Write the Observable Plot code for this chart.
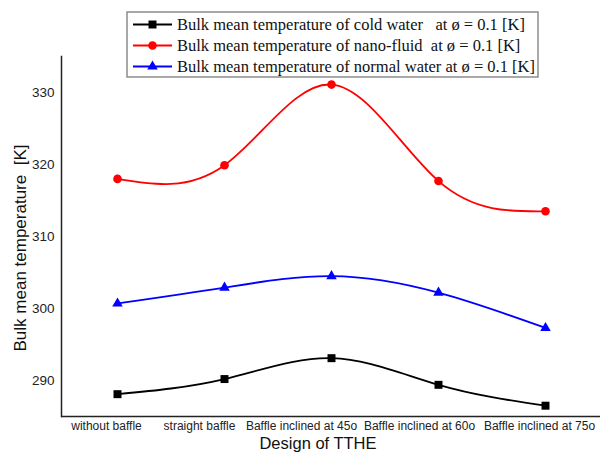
<!DOCTYPE html>
<html>
<head>
<meta charset="utf-8">
<script src="https://cdn.jsdelivr.net/npm/d3@7"></script>
<script src="https://cdn.jsdelivr.net/npm/@observablehq/plot@0.6"></script>
<style>
  html, body { margin: 0; padding: 0; background: white; }
  #chart { position: relative; width: 608px; height: 453px; overflow: hidden; }
</style>
</head>
<body>
<div id="chart"></div>
<script>
// ---- data ----
const categories = ["without baffle", "straight baffle", "Baffle inclined at 45o", "Baffle inclined at 60o", "Baffle inclined at 75o"];
const coldWater   = [288.1, 290.2, 293.1, 289.4, 286.5];
const nanoFluid   = [318.0, 319.9, 331.1, 317.7, 313.5];
const normalWater = [300.7, 302.9, 304.5, 302.2, 297.3];
const seriesNames = [
  "Bulk mean temperature of cold water   at ø = 0.1 [K]",
  "Bulk mean temperature of nano-fluid  at ø = 0.1 [K]",
  "Bulk mean temperature of normal water at ø = 0.1 [K]"
];
const yTicks = [290, 300, 310, 320, 330];
const xTitle = "Design of TTHE";
const yTitle = "Bulk mean temperature  [K]";

// ---- styles ----
const seriesValues = [coldWater, nanoFluid, normalWater];
const seriesColors = ["#000000", "#ff0000", "#0000ff"];
const seriesSymbols = ["square", "circle", "triangle"];
const seriesR = [4.5, 4.3, 3.9];
const tickLabelNudge = [-11, -25, -30, -19, -6]; // labels are crowded in the original

const rows = seriesNames.flatMap((s, i) =>
  categories.map((c, j) => ({ design: c, value: seriesValues[i][j], series: s }))
);

const marks = [
  Plot.axisY({ ticks: yTicks, tickSize: 0, tickPadding: 7, fontSize: 13.5, color: "#222", label: null }),
  Plot.ruleY([285], { stroke: "#222", strokeWidth: 1.5 }),
  Plot.frame({ anchor: "left", stroke: "#222", strokeWidth: 1.5 })
];
categories.forEach((c, i) => {
  marks.push(Plot.text([c], {
    x: d => d, text: d => d, frameAnchor: "bottom", lineAnchor: "top",
    dy: 5, dx: tickLabelNudge[i], fontSize: 12, fill: "#222"
  }));
});
seriesNames.forEach((s, i) => {
  const d = rows.filter(r => r.series === s);
  marks.push(Plot.line(d, { x: "design", y: "value", stroke: seriesColors[i], strokeWidth: 1.8, curve: "natural" }));
});
seriesNames.forEach((s, i) => {
  const d = rows.filter(r => r.series === s);
  marks.push(Plot.dot(d, { x: "design", y: "value", symbol: () => seriesSymbols[i], fill: seriesColors[i], stroke: "none", r: seriesR[i] }));
});

const chart = Plot.plot({
  width: 608,
  height: 453,
  marginLeft: 61,
  marginRight: 8,
  marginTop: 56,
  marginBottom: 37,
  style: { fontFamily: "'Liberation Sans', Arial, sans-serif", background: "white" },
  x: { type: "point", domain: categories, padding: 0.5, label: null, axis: null },
  y: { domain: [285, 335], label: null },
  symbol: { domain: seriesSymbols, range: seriesSymbols },
  marks
});
document.getElementById("chart").appendChild(chart);

// ---- titles & legend (appended into the plot's svg) ----
const svg = d3.select(chart.tagName.toLowerCase() === "svg" ? chart : chart.querySelector("svg"));

svg.append("text")
  .attr("transform", "translate(20,248) rotate(-90)")
  .attr("text-anchor", "middle")
  .attr("dy", "0.35em")
  .style("font-family", "'Liberation Sans', Arial, sans-serif")
  .style("font-size", "17px")
  .attr("fill", "#111")
  .text(yTitle);

svg.append("text")
  .attr("x", 318)
  .attr("y", 443.5)
  .attr("text-anchor", "middle")
  .attr("dy", "0.35em")
  .style("font-family", "'Liberation Sans', Arial, sans-serif")
  .style("font-size", "16.5px")
  .attr("fill", "#111")
  .text(xTitle);

const leg = svg.append("g");
leg.append("rect")
  .attr("x", 127).attr("y", 12).attr("width", 411).attr("height", 65)
  .attr("fill", "white").attr("stroke", "#8c8c8c").attr("stroke-width", 1.5);
const d3Sym = { square: d3.symbolSquare, circle: d3.symbolCircle, triangle: d3.symbolTriangle };
seriesNames.forEach((s, i) => {
  const y = 24.5 + i * 21;
  leg.append("line")
    .attr("x1", 133).attr("x2", 172).attr("y1", y).attr("y2", y)
    .attr("stroke", seriesColors[i]).attr("stroke-width", 1.8);
  leg.append("path")
    .attr("transform", `translate(152.5,${y})`)
    .attr("d", d3.symbol(d3Sym[seriesSymbols[i]], Math.PI * seriesR[i] * seriesR[i])())
    .attr("fill", seriesColors[i]);
  leg.append("text")
    .attr("x", 177).attr("y", y).attr("dy", "0.35em")
    .attr("text-anchor", "start")
    .attr("xml:space", "preserve")
    .style("white-space", "pre")
    .style("font-family", "'Liberation Serif', 'Times New Roman', serif")
    .style("font-size", "16.5px")
    .attr("fill", "#111")
    .text(s);
});
</script>
</body>
</html>
